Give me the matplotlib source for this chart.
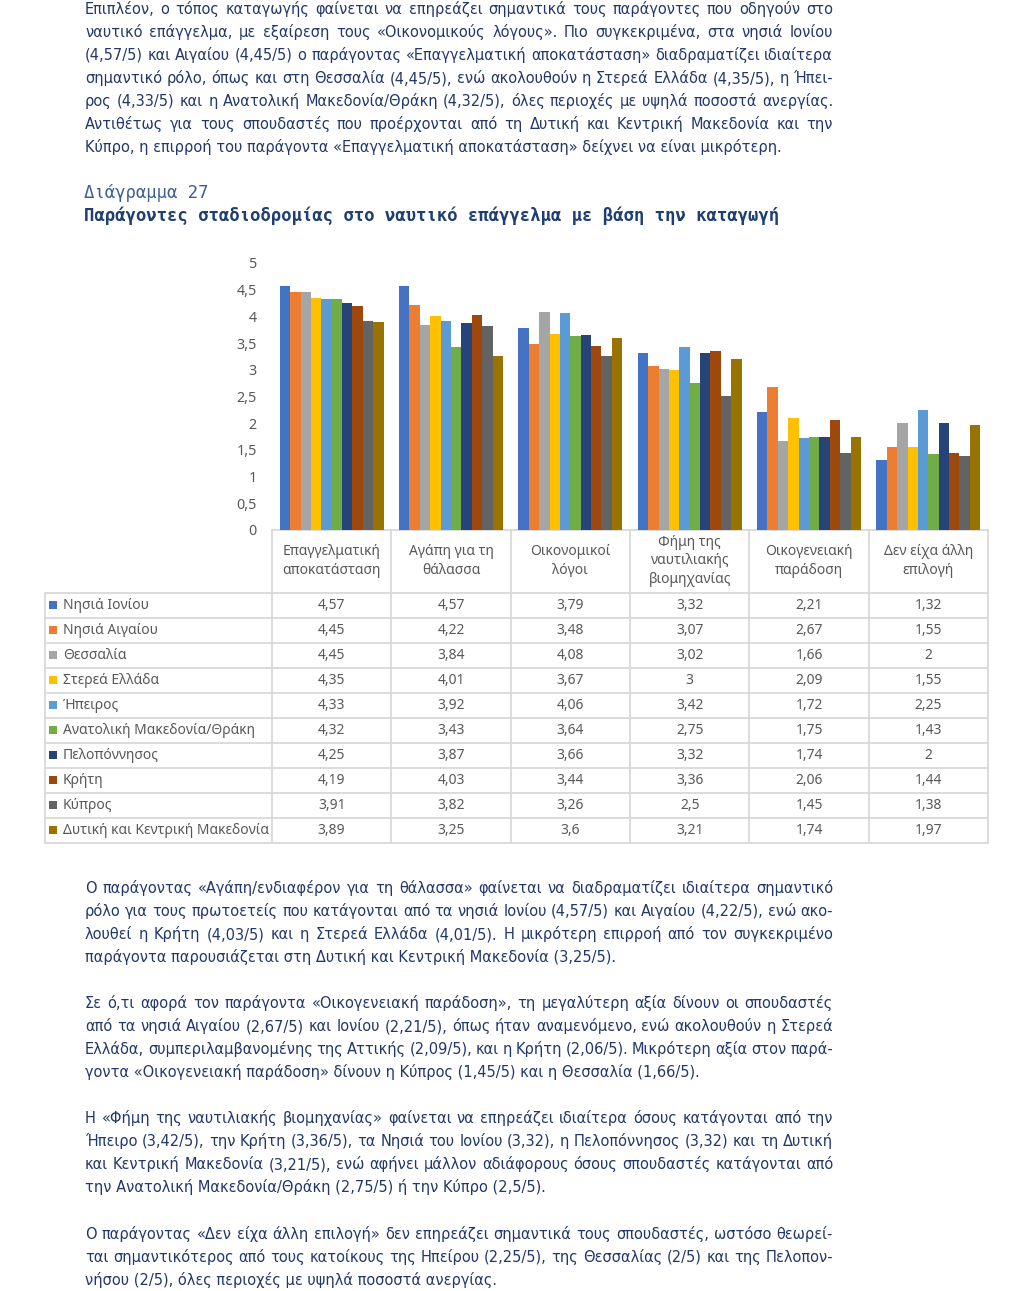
import matplotlib
matplotlib.use('Agg')
import matplotlib.pyplot as plt
import numpy as np
from matplotlib import font_manager

# ---- data -------------------------------------------------------------
categories = ['Επαγγελματική\nαποκατάσταση', 'Αγάπη για τη\nθάλασσα', 'Οικονομικοί\nλόγοι',
              'Φήμη της\nναυτιλιακής\nβιομηχανίας', 'Οικογενειακή\nπαράδοση', 'Δεν είχα άλλη\nεπιλογή']
regions = ['Νησιά Ιονίου', 'Νησιά Αιγαίου', 'Θεσσαλία', 'Στερεά Ελλάδα', 'Ήπειρος',
           'Ανατολική Μακεδονία/Θράκη', 'Πελοπόννησος', 'Κρήτη', 'Κύπρος',
           'Δυτική και Κεντρική Μακεδονία']
ionio = [4.57, 4.57, 3.79, 3.32, 2.21, 1.32]
aigaio = [4.45, 4.22, 3.48, 3.07, 2.67, 1.55]
thessalia = [4.45, 3.84, 4.08, 3.02, 1.66, 2]
sterea = [4.35, 4.01, 3.67, 3, 2.09, 1.55]
ipeiros = [4.33, 3.92, 4.06, 3.42, 1.72, 2.25]
an_makedonia = [4.32, 3.43, 3.64, 2.75, 1.75, 1.43]
peloponnisos = [4.25, 3.87, 3.66, 3.32, 1.74, 2]
kriti = [4.19, 4.03, 3.44, 3.36, 2.06, 1.44]
kypros = [3.91, 3.82, 3.26, 2.5, 1.45, 1.38]
dyt_makedonia = [3.89, 3.25, 3.6, 3.21, 1.74, 1.97]
series = [ionio, aigaio, thessalia, sterea, ipeiros, an_makedonia,
          peloponnisos, kriti, kypros, dyt_makedonia]
colors = ['#4472C4', '#ED7D31', '#A5A5A5', '#FFC000', '#5B9BD5',
          '#70AD47', '#264478', '#9E480E', '#636363', '#997300']
yticks = [0, 0.5, 1, 1.5, 2, 2.5, 3, 3.5, 4, 4.5, 5]

para_top = [
    'Επιπλέον, ο τόπος καταγωγής φαίνεται να επηρεάζει σημαντικά τους παράγοντες που οδηγούν στο',
    'ναυτικό επάγγελμα, με εξαίρεση τους «Οικονομικούς λόγους». Πιο συγκεκριμένα, στα νησιά Ιονίου',
    '(4,57/5) και Αιγαίου (4,45/5) ο παράγοντας «Επαγγελματική αποκατάσταση» διαδραματίζει ιδιαίτερα',
    'σημαντικό ρόλο, όπως και στη Θεσσαλία (4,45/5), ενώ ακολουθούν η Στερεά Ελλάδα (4,35/5), η Ήπει-',
    'ρος (4,33/5) και η Ανατολική Μακεδονία/Θράκη (4,32/5), όλες περιοχές με υψηλά ποσοστά ανεργίας.',
    'Αντιθέτως για τους σπουδαστές που προέρχονται από τη Δυτική και Κεντρική Μακεδονία και την',
    'Κύπρο, η επιρροή του παράγοντα «Επαγγελματική αποκατάσταση» δείχνει να είναι μικρότερη.',
]
para_1 = [
    'Ο παράγοντας «Αγάπη/ενδιαφέρον για τη θάλασσα» φαίνεται να διαδραματίζει ιδιαίτερα σημαντικό',
    'ρόλο για τους πρωτοετείς που κατάγονται από τα νησιά Ιονίου (4,57/5) και Αιγαίου (4,22/5), ενώ ακο-',
    'λουθεί η Κρήτη (4,03/5) και η Στερεά Ελλάδα (4,01/5). Η μικρότερη επιρροή από τον συγκεκριμένο',
    'παράγοντα παρουσιάζεται στη Δυτική και Κεντρική Μακεδονία (3,25/5).',
]
para_2 = [
    'Σε ό,τι αφορά τον παράγοντα «Οικογενειακή παράδοση», τη μεγαλύτερη αξία δίνουν οι σπουδαστές',
    'από τα νησιά Αιγαίου (2,67/5) και Ιονίου (2,21/5), όπως ήταν αναμενόμενο, ενώ ακολουθούν η Στερεά',
    'Ελλάδα, συμπεριλαμβανομένης της Αττικής (2,09/5), και η Κρήτη (2,06/5). Μικρότερη αξία στον παρά-',
    'γοντα «Οικογενειακή παράδοση» δίνουν η Κύπρος (1,45/5) και η Θεσσαλία (1,66/5).',
]
para_3 = [
    'Η «Φήμη της ναυτιλιακής βιομηχανίας» φαίνεται να επηρεάζει ιδιαίτερα όσους κατάγονται από την',
    'Ήπειρο (3,42/5), την Κρήτη (3,36/5), τα Νησιά του Ιονίου (3,32), η Πελοπόννησος (3,32) και τη Δυτική',
    'και Κεντρική Μακεδονία (3,21/5), ενώ αφήνει μάλλον αδιάφορους όσους σπουδαστές κατάγονται από',
    'την Ανατολική Μακεδονία/Θράκη (2,75/5) ή την Κύπρο (2,5/5).',
]
para_4 = [
    'Ο παράγοντας «Δεν είχα άλλη επιλογή» δεν επηρεάζει σημαντικά τους σπουδαστές, ωστόσο θεωρεί-',
    'ται σημαντικότερος από τους κατοίκους της Ηπείρου (2,25/5), της Θεσσαλίας (2/5) και της Πελοπον-',
    'νήσου (2/5), όλες περιοχές με υψηλά ποσοστά ανεργίας.',
]


def fmt(v):
    return ('%g' % v).replace('.', ',')


W, H = 1029, 1291
fig = plt.figure(figsize=(W / 100, H / 100), dpi=100)
fig.patch.set_facecolor('white')

# page layer in pixel coordinates
page = fig.add_axes([0, 0, 1, 1])
page.set_xlim(0, W)
page.set_ylim(H, 0)
page.axis('off')

# condensed DejaVu if it is there, it keeps a steady baseline word by word
condensed = [f for f in font_manager.fontManager.ttflist
             if f.name == 'DejaVu Sans' and 'Condensed' in f.fname and 'Bold' not in f.fname]
if condensed:
    font_style = dict(family='DejaVu Sans', fontstretch='condensed', color='#22386b', va='baseline')
else:
    font_style = dict(family='DejaVu Sans', color='#22386b', va='baseline')
renderer = fig.canvas.get_renderer()
X0, X1 = 85, 833


def text_width(s, size):
    t = page.text(0, 0, s, fontsize=size, **font_style)
    wd = t.get_window_extent(renderer).width
    t.remove()
    return wd


# last line of the first paragraph runs from x=85 to x=785
body_size = 10 * 700 / text_width(para_top[-1], 10)
body_style = dict(font_style, fontsize=body_size)


def paragraph(lines, y0):
    for i, line in enumerate(lines):
        y = y0 + 23 * i
        if i == len(lines) - 1:
            page.text(X0, y, line, **body_style)
            continue
        words = line.split(' ')
        widths = [text_width(w, body_size) for w in words]
        gap = (X1 - X0 - sum(widths)) / (len(words) - 1)
        x = X0
        for w, wd in zip(words, widths):
            page.text(x, y, w, **body_style)
            x += wd + gap


paragraph(para_top, 14)
paragraph(para_1, 893)
paragraph(para_2, 1008)
paragraph(para_3, 1123)
paragraph(para_4, 1239)

page.text(84, 198, 'Διάγραμμα 27', family='DejaVu Sans Mono', fontsize=12.4,
          color='#3d5f8f', va='baseline')
page.text(84, 221, 'Παράγοντες σταδιοδρομίας στο ναυτικό επάγγελμα με βάση την καταγωγή',
          family='DejaVu Sans Mono', fontsize=12.4, fontweight='bold', color='#1f3f73', va='baseline')

# ---- chart ------------------------------------------------------------
left, right, top, bottom = 272, 988, 263, 530
ax = fig.add_axes([left / W, 1 - bottom / H, (right - left) / W, (bottom - top) / H])
ax.patch.set_alpha(0)
n = len(series)
group = 0.87
bw = group / n
x = np.arange(len(categories))
for j, (vals, c) in enumerate(zip(series, colors)):
    ax.bar(x - group / 2 + bw * (j + 0.5), vals, width=bw, color=c, linewidth=0)
ax.set_xlim(-0.5, len(categories) - 0.5)
ax.set_ylim(0, 5)
ax.set_yticks(yticks)
ax.set_yticklabels([fmt(v) for v in yticks], family='Noto Sans',
                   fontsize=10.3, color='#595959')
ax.tick_params(axis='y', length=0, pad=11)
ax.set_xticks([])
for s in ax.spines.values():
    s.set_visible(False)

# ---- data table -------------------------------------------------------
grid = '#d9d9d9'
cell_style = dict(family='Noto Sans', fontsize=10, color='#595959')
colw = (right - left) / len(categories)
row0, rowh = 593, 25
tab_left = 45
n_rows = len(regions)
tab_bottom = row0 + rowh * n_rows

page.plot([left, right], [bottom, bottom], color=grid, lw=1.3)
for i in range(len(categories) + 1):
    xc = left + colw * i
    page.plot([xc, xc], [bottom, tab_bottom], color=grid, lw=1.3)
for k in range(n_rows + 1):
    yk = row0 + rowh * k
    page.plot([tab_left, right], [yk, yk], color=grid, lw=1.3)
page.plot([tab_left, tab_left], [row0, tab_bottom], color=grid, lw=1.3)

for i, cat in enumerate(categories):
    page.text(left + colw * (i + 0.5), 561, cat, ha='center', va='center',
              multialignment='center', linespacing=1.35, **cell_style)

for k, (reg, vals, c) in enumerate(zip(regions, series, colors)):
    yc = row0 + rowh * (k + 0.5)
    page.add_patch(plt.Rectangle((49, yc - 4.5), 8, 8, color=c, lw=0))
    page.text(63, yc, reg, ha='left', va='center', **cell_style)
    for i, v in enumerate(vals):
        page.text(left + colw * (i + 0.5), yc, fmt(v), ha='center', va='center', **cell_style)

fig.savefig('out.png', dpi=100, facecolor='white')
